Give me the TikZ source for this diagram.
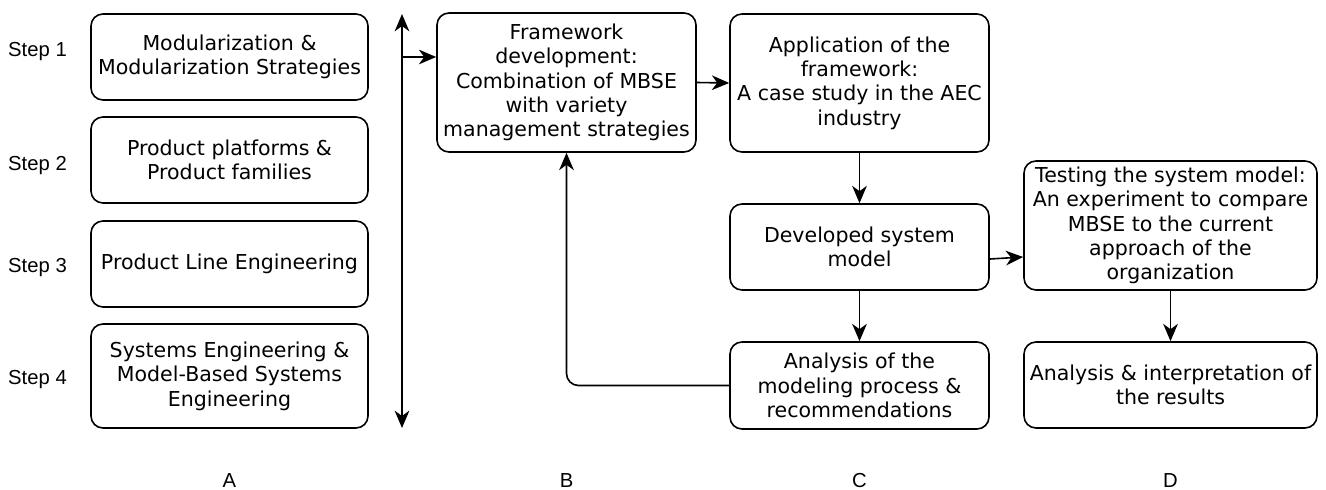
\documentclass[tikz,border=0pt]{standalone}
\usepackage{fontspec}
\setmainfont{DejaVu Sans}
\newfontfamily\labelfont{Liberation Sans}
\usetikzlibrary{arrows.meta,calc}
\newcommand\boxfont{\fontsize{15.4}{18.3}\selectfont}
\newcommand\lblfont{\labelfont\fontsize{15.2}{18}\selectfont}

\begin{document}
\begin{tikzpicture}[x=0.75pt,y=-0.75pt,
  box/.style={draw, line width=1.2pt, rounded corners=9pt, align=center,
    inner sep=0pt, font=\boxfont},
  conn/.style={line width=1.2pt, -{Stealth[length=13pt,width=11pt,inset=4pt]}},
  biconn/.style={line width=1.2pt,
    {Stealth[length=13pt,width=11pt,inset=4pt]}-{Stealth[length=13pt,width=11pt,inset=4pt]}},
  steplabel/.style={font=\lblfont, anchor=base, inner sep=0pt}]
\useasboundingbox (0,0) rectangle (1326,489);

% column A: literature steps
\node[box, minimum width=207.75pt, minimum height=64.5pt] (a1) at (229.5,57)
  {Modularization \&\\Modularization Strategies};
\node[box, minimum width=207.75pt, minimum height=64.5pt] (a2) at (229.5,160)
  {Product platforms \&\\Product families};
\node[box, minimum width=207.75pt, minimum height=64.5pt] (a3) at (229.5,264)
  {Product Line Engineering};
\node[box, minimum width=207.75pt, minimum height=78pt] (a4) at (229.5,376)
  {Systems Engineering \&\\Model-Based Systems\\Engineering};

\node[steplabel] (s1) at (37.5,56) {Step 1};
\node[steplabel] (s2) at (37.5,170) {Step 2};
\node[steplabel] (s3) at (37.5,272) {Step 3};
\node[steplabel] (s4) at (37.5,384) {Step 4};

% column B
\node[box, minimum width=194.25pt, minimum height=104.25pt] (b1) at (566.5,82.5)
  {Framework\\development:\\Combination of MBSE\\with variety\\management strategies};

% column C
\node[box, minimum width=194.25pt, minimum height=103.5pt] (c1) at (859.5,83)
  {Application of the\\framework:\\A case study in the AEC\\industry};
\node[box, minimum width=194.25pt, minimum height=64.5pt] (c2) at (859.5,247)
  {Developed system\\model};
\node[box, minimum width=194.25pt, minimum height=65.25pt] (c3) at (859.5,385.5)
  {Analysis of the\\modeling process \&\\recommendations};

% column D
\node[box, minimum width=219.75pt, minimum height=96.75pt] (d1) at (1170.5,225.5)
  {Testing the system model:\\An experiment to compare\\MBSE to the current\\approach of the\\organization};
\node[box, minimum width=219.75pt, minimum height=64.5pt] (d2) at (1170.5,385)
  {Analysis \& interpretation of\\the results};

% column letters
\node[steplabel] (la) at (229.5,487) {A};
\node[steplabel] (lb) at (566.5,487) {B};
\node[steplabel] (lc) at (859.5,487) {C};
\node[steplabel] (ld) at (1170.5,487) {D};

% connectors
\coordinate (vtop) at (402,14);
\coordinate (vbot) at (402,428);
\coordinate (vbr) at (402,57);
\draw[biconn] (vtop) -- (vbot);
\draw[conn] (vbr) -- (vbr -| b1.west);
\draw[conn] (b1.east) -- (c1.west);
\draw[conn] (c1.south) -- (c2.north);
\draw[conn] (c2.south) -- (c3.north);
\draw[conn] ($(c2.east)+(0,12)$) -- ($(d1.west)+(0,31.5)$);
\draw[conn] (d1.south) -- (d2.north);
\draw[conn, rounded corners=9pt] (c3.west) -| (b1.south);
\end{tikzpicture}
\end{document}
